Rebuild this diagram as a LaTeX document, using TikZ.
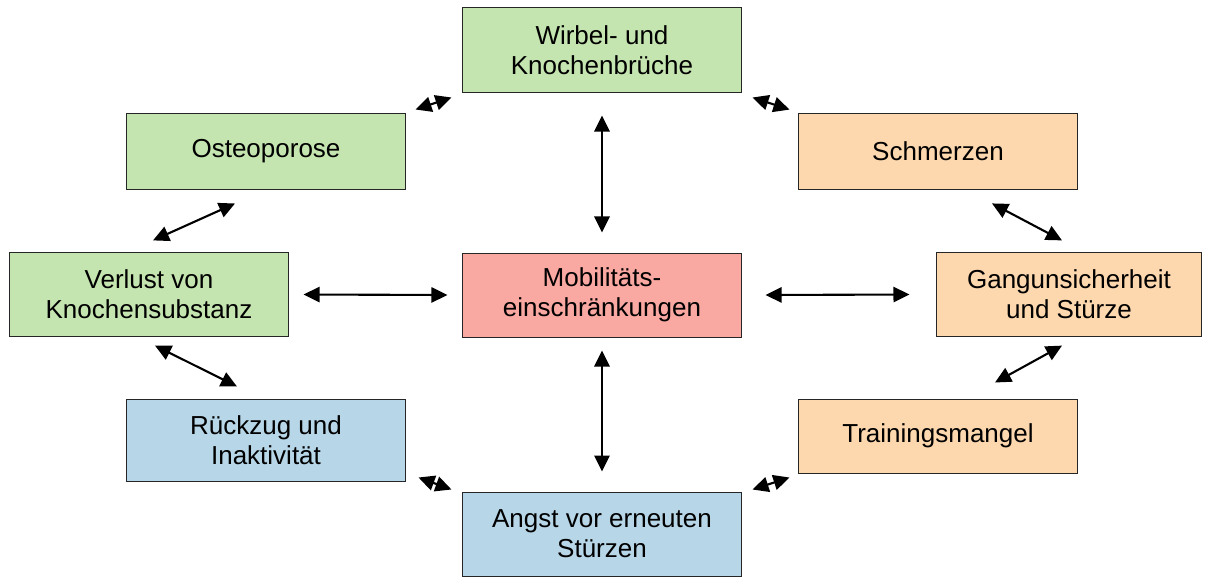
\documentclass[tikz,border=0pt]{standalone}
\usepackage{fontspec}
\setmainfont{Liberation Sans}
\usetikzlibrary{arrows.meta}

\definecolor{boxgreen}{RGB}{197,229,176}
\definecolor{boxorange}{RGB}{253,216,174}
\definecolor{boxred}{RGB}{250,168,162}
\definecolor{boxblue}{RGB}{183,214,231}

\begin{document}
\begin{tikzpicture}[x=0.025cm, y=-0.025cm,
  box/.style={draw=black!85, line width=0.7pt, minimum width=6.95cm, minimum height=2.1cm,
    align=center, font=\fontsize{18.5}{21.3}\selectfont},
  link/.style={{Triangle[length=0.4cm,width=0.38cm]}-{Triangle[length=0.4cm,width=0.38cm]}, line width=1.5pt}]

\useasboundingbox (0,0) rectangle (1210,579);

\node [box, fill=boxgreen] (wirbel) at (602,50) {Wirbel- und\\Knochenbrüche};
\node [box, fill=boxgreen, minimum height=1.9cm] (osteo) at (266,151) {Osteoporose};
\node [box, fill=boxorange, minimum height=1.92cm] (schmerz) at (938,151.5) {Schmerzen};
\node [box, fill=boxgreen, minimum height=2.08cm] (verlust) at (149,294.5) {Verlust von\\Knochensubstanz};
\node [box, fill=boxred] (mobil) at (602,295) {Mobilitäts-\\einschränkungen};
\node [box, fill=boxorange, minimum width=6.6cm, minimum height=2.08cm] (gang) at (1069,294.5) {Gangunsicherheit\\und Stürze};
\node [box, fill=boxblue, minimum height=2.05cm] (rueckzug) at (266,440) {Rückzug und\\Inaktivität};
\node [box, fill=boxorange, minimum height=1.85cm] (training) at (938,436) {Trainingsmangel};
\node [box, fill=boxblue] (angst) at (602,534) {Angst vor erneuten\\Stürzen};

% zur Mitte
\draw[link] ([shift={(0,23)}]wirbel.south) -- ([shift={(0,-20)}]mobil.north);
\draw[link] ([shift={(0,13)}]mobil.south) -- ([shift={(0,-20)}]angst.north);
\draw[link] ([shift={(15,0)}]verlust.east) -- ([shift={(-15,0)}]mobil.west);
\draw[link] ([shift={(24,0)}]mobil.east) -- ([shift={(-27,0)}]gang.west);

% aussen herum
\draw[link] ([shift={(10,-3)}]osteo.north east) -- ([shift={(-11,5)}]wirbel.south west);
\draw[link] ([shift={(11,5)}]wirbel.south east) -- ([shift={(-9,-3)}]schmerz.north west);
\draw[link] ([shift={(-31,14)}]osteo.south) -- ([shift={(4,-12)}]verlust.north);
\draw[link] ([shift={(54,13)}]schmerz.south) -- ([shift={(-7,-12)}]gang.north);
\draw[link] ([shift={(6,9)}]verlust.south) -- ([shift={(-29,-12)}]rueckzug.north);
\draw[link] ([shift={(-7,9)}]gang.south) -- ([shift={(57,-16)}]training.north);
\draw[link] ([shift={(13,-4)}]rueckzug.south east) -- ([shift={(-11,-2)}]angst.north west);
\draw[link] ([shift={(-9,4)}]training.south west) -- ([shift={(11,-2)}]angst.north east);

\end{tikzpicture}
\end{document}
